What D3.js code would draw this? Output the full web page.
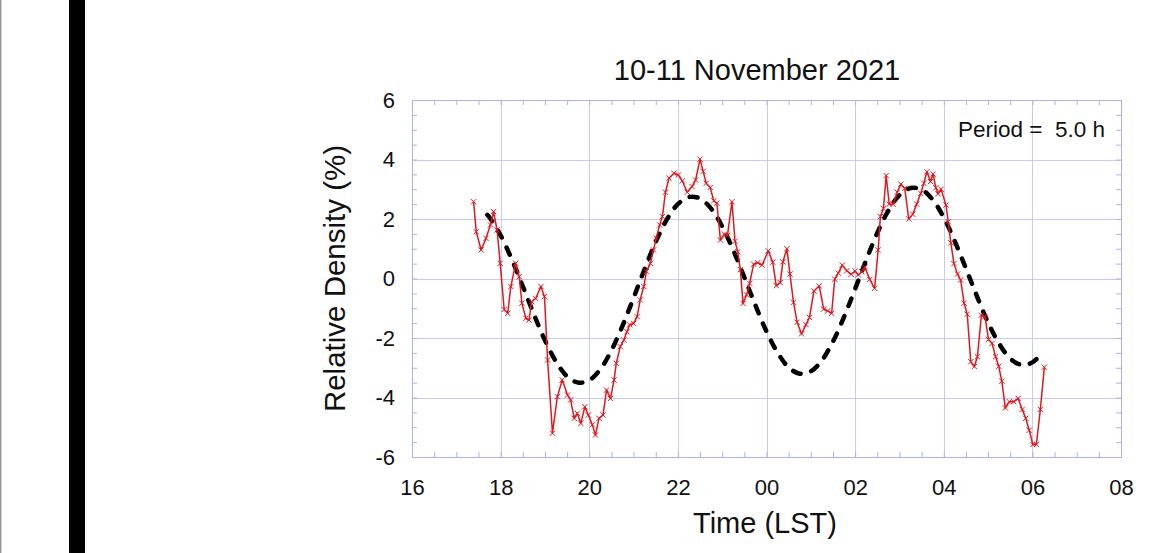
<!DOCTYPE html>
<html>
<head>
<meta charset="utf-8">
<script src="https://cdn.jsdelivr.net/npm/d3@7"></script>
<style>
  html, body { margin: 0; padding: 0; background: #fff; }
  svg { display: block; }
  text { font-family: "Liberation Sans", Arial, Helvetica, sans-serif; fill: #111; white-space: pre; }
</style>
</head>
<body>
<svg id="chart" width="1151" height="553"></svg>
<script>
// Observed relative density: time in hours (LST, continuing past midnight as 24+) and percent
const obsTime = [
  17.39, 17.45, 17.56, 17.67, 17.77, 17.84, 17.92, 17.99, 18.08, 18.16,
  18.23, 18.34, 18.42, 18.48, 18.57, 18.64, 18.70, 18.79, 18.91, 18.99,
  19.06, 19.17, 19.28, 19.39, 19.51, 19.58, 19.66, 19.73, 19.81, 19.90,
  19.98, 20.07, 20.14, 20.22, 20.31, 20.39, 20.48, 20.56, 20.61, 20.70,
  20.78, 20.85, 20.91, 21.00, 21.08, 21.15, 21.23, 21.29, 21.38, 21.45,
  21.51, 21.59, 21.65, 21.72, 21.80, 21.91, 22.01, 22.10, 22.21, 22.32,
  22.40, 22.50, 22.57, 22.64, 22.73, 22.81, 22.88, 22.96, 23.05, 23.12,
  23.22, 23.29, 23.35, 23.41, 23.47, 23.55, 23.62, 23.71, 23.80, 23.90,
  24.04, 24.14, 24.22, 24.31, 24.37, 24.46, 24.53, 24.61, 24.69, 24.79,
  24.89, 24.97, 25.07, 25.19, 25.29, 25.38, 25.47, 25.54, 25.62, 25.71,
  25.81, 25.91, 26.00, 26.07, 26.15, 26.22, 26.33, 26.44, 26.52, 26.57,
  26.64, 26.70, 26.77, 26.86, 26.95, 27.03, 27.12, 27.21, 27.30, 27.39,
  27.48, 27.55, 27.62, 27.70, 27.76, 27.82, 27.87, 27.94, 28.05, 28.10,
  28.16, 28.23, 28.31, 28.38, 28.46, 28.53, 28.61, 28.69, 28.76, 28.85,
  28.93, 29.01, 29.09, 29.17, 29.24, 29.31, 29.39, 29.48, 29.58, 29.68,
  29.77, 29.85, 29.93, 30.01, 30.09, 30.18, 30.27
];
const obsValue = [
  2.58, 1.57, 0.96, 1.35, 1.80, 2.25, 1.63, 0.51, -1.04, -1.17,
  -0.27, 0.51, 0.06, -0.83, -1.34, -1.40, -0.78, -0.67, -0.27, -0.61,
  -2.74, -5.20, -3.97, -3.41, -3.92, -4.08, -4.70, -4.53, -4.87, -4.31,
  -4.59, -4.92, -5.26, -4.70, -4.59, -3.75, -4.03, -3.41, -2.85, -2.29,
  -2.07, -1.79, -1.56, -1.51, -1.28, -0.72, -0.27, 0.23, 0.51, 0.96,
  1.35, 1.80, 2.08, 2.90, 3.37, 3.54, 3.48, 3.28, 2.90, 3.09,
  3.31, 4.01, 3.60, 3.20, 3.06, 2.61, 2.53, 1.29, 1.49, 1.45,
  2.58, 1.25, 0.90, 0.30, -0.84, -0.55, -0.16, 0.48, 0.53, 0.45,
  0.93, 0.55, -0.24, -0.14, 0.56, 1.00, 0.15, -0.80, -1.47, -1.86,
  -1.55, -1.31, -0.42, -0.25, -1.03, -1.09, -1.17, -0.02, 0.18, 0.45,
  0.26, 0.14, 0.25, 0.12, 0.23, 0.38, -0.03, -0.33, 0.96, 2.08,
  2.36, 3.46, 2.50, 2.50, 2.90, 3.17, 3.03, 2.00, 2.16, 2.50,
  2.86, 3.20, 3.59, 3.26, 3.51, 3.05, 2.85, 3.00, 2.47, 1.91,
  1.20, 0.50, 0.15, -0.05, -0.83, -1.20, -2.80, -2.96, -2.63, -1.23,
  -1.28, -2.05, -2.18, -2.63, -2.95, -3.45, -4.35, -4.14, -4.14, -4.03,
  -4.40, -4.70, -5.10, -5.58, -5.58, -4.40, -2.98
];

// Fitted 5.0 h oscillation (dashed curve)
const fitTime = [
  17.70, 17.75, 18.00, 18.25, 18.50, 18.75, 19.00, 19.25, 19.50, 19.75,
  20.00, 20.25, 20.50, 20.75, 21.00, 21.25, 21.50, 21.75, 22.00, 22.25,
  22.50, 22.75, 23.00, 23.25, 23.50, 23.75, 24.00, 24.25, 24.50, 24.75,
  25.00, 25.25, 25.50, 25.75, 26.00, 26.25, 26.50, 26.75, 27.00, 27.25,
  27.50, 27.75, 28.00, 28.25, 28.50, 28.75, 29.00, 29.25, 29.50, 29.75,
  30.00, 30.25
];
const fitValue = [
  2.14, 2.05, 1.45, 0.65, -0.26, -1.20, -2.08, -2.79, -3.29, -3.50,
  -3.42, -3.05, -2.42, -1.59, -0.65, 0.32, 1.23, 1.98, 2.50, 2.74,
  2.69, 2.35, 1.75, 0.95, 0.04, -0.90, -1.78, -2.49, -2.99, -3.20,
  -3.12, -2.75, -2.12, -1.29, -0.35, 0.62, 1.53, 2.28, 2.80, 3.04,
  2.99, 2.65, 2.05, 1.25, 0.34, -0.60, -1.48, -2.19, -2.69, -2.90,
  -2.82, -2.45
];

const xTicks = [16, 18, 20, 22, 24, 26, 28, 30, 32];
const yTicks = [-6, -4, -2, 0, 2, 4, 6];
const titleText = "10-11 November 2021";
const xLabel = "Time (LST)";
const yLabel = "Relative Density (%)";
const periodNote = "Period =  5.0 h";

const svg = d3.select("#chart");
const W = 1151, H = 553;
const plot = { left: 412, right: 1121, top: 100, bottom: 457 };
const frameColor = "#aeb0ee";
const gridColor = "#c9caf4";

const x = d3.scaleLinear().domain([16, 32]).range([plot.left, plot.right]);
const y = d3.scaleLinear().domain([-6, 6]).range([plot.bottom, plot.top]);

// Page edges: thin grey line at the far left and a solid black bar
svg.append("rect").attr("x", 0).attr("y", 0).attr("width", W).attr("height", H).attr("fill", "#fff");
svg.append("rect").attr("x", 0).attr("y", 0).attr("width", 1.5).attr("height", H).attr("fill", "#9a9a9a");
svg.append("rect").attr("x", 69).attr("y", 0).attr("width", 16).attr("height", H).attr("fill", "#000");

// Grid lines at the major ticks
const grid = svg.append("g").attr("stroke", gridColor).attr("stroke-width", 1);
grid.selectAll("line.gx").data(xTicks.slice(1, -1)).join("line")
  .attr("x1", d => Math.round(x(d)) + 0.5).attr("x2", d => Math.round(x(d)) + 0.5)
  .attr("y1", plot.top).attr("y2", plot.bottom);
grid.selectAll("line.gy").data(yTicks.slice(1, -1)).join("line")
  .attr("y1", d => Math.round(y(d)) + 0.5).attr("y2", d => Math.round(y(d)) + 0.5)
  .attr("x1", plot.left).attr("x2", plot.right);

// Minor ticks pointing inward on all four sides
const minorX = d3.range(16, 32.01, 0.5);
const minorY = d3.range(-6, 6.01, 0.5);
const tickLen = 5;
function styleAxis(g) {
  g.select(".domain").remove();
  g.selectAll(".tick line").attr("stroke", frameColor).attr("stroke-width", 1);
}
svg.append("g").attr("transform", `translate(0,${plot.bottom})`)
  .call(d3.axisBottom(x).tickValues(minorX).tickSize(-tickLen).tickFormat(""))
  .call(styleAxis);
svg.append("g").attr("transform", `translate(0,${plot.top})`)
  .call(d3.axisTop(x).tickValues(minorX).tickSize(-tickLen).tickFormat(""))
  .call(styleAxis);
svg.append("g").attr("transform", `translate(${plot.left},0)`)
  .call(d3.axisLeft(y).tickValues(minorY).tickSize(-tickLen).tickFormat(""))
  .call(styleAxis);
svg.append("g").attr("transform", `translate(${plot.right},0)`)
  .call(d3.axisRight(y).tickValues(minorY).tickSize(-tickLen).tickFormat(""))
  .call(styleAxis);

// Tick labels (plain hyphen for negatives)
const fmtHour = h => String(((h % 24) + 24) % 24).padStart(2, "0");
const xAxis = svg.append("g").attr("transform", `translate(0,${plot.bottom})`)
  .call(d3.axisBottom(x).tickValues(xTicks).tickSize(0).tickPadding(22).tickFormat(fmtHour));
xAxis.select(".domain").remove();
xAxis.selectAll("text").attr("font-size", 22).attr("font-family", "Liberation Sans, Arial, sans-serif").attr("fill", "#111");

const yAxis = svg.append("g").attr("transform", `translate(${plot.left},0)`)
  .call(d3.axisLeft(y).tickValues(yTicks).tickSize(0).tickPadding(17).tickFormat(d => String(d)));
yAxis.select(".domain").remove();
yAxis.selectAll("text").attr("font-size", 22).attr("font-family", "Liberation Sans, Arial, sans-serif").attr("fill", "#111");

// Plot frame
svg.append("rect")
  .attr("x", plot.left + 0.5).attr("y", plot.top + 0.5)
  .attr("width", plot.right - plot.left).attr("height", plot.bottom - plot.top)
  .attr("fill", "none").attr("stroke", frameColor).attr("stroke-width", 1);

// Fitted curve, thick black dashes
const fitPts = fitTime.map((t, i) => [t, fitValue[i]]);
svg.append("path")
  .datum(fitPts)
  .attr("fill", "none").attr("stroke", "#000").attr("stroke-width", 4.5)
  .attr("stroke-linecap", "round").attr("stroke-dasharray", "8,11")
  .attr("d", d3.line().x(d => x(d[0])).y(d => y(d[1])).curve(d3.curveCatmullRom));

// Observed series: red line with x markers
const obsPts = obsTime.map((t, i) => [t, obsValue[i]]);
const red = "#e0181e";
svg.append("path")
  .datum(obsPts)
  .attr("fill", "none").attr("stroke", red).attr("stroke-width", 1.5)
  .attr("stroke-linejoin", "round")
  .attr("d", d3.line().x(d => x(d[0])).y(d => y(d[1])));
const cross = d3.symbol().type(d3.symbolX).size(20);
svg.append("g").selectAll("path").data(obsPts).join("path")
  .attr("transform", d => `translate(${x(d[0])},${y(d[1])})`)
  .attr("d", cross)
  .attr("fill", "none").attr("stroke", red).attr("stroke-width", 1);

// Titles and annotation
svg.append("text").attr("x", 757).attr("y", 80).attr("text-anchor", "middle")
  .attr("font-size", 29).text(titleText);
svg.append("text").attr("x", 765).attr("y", 533).attr("text-anchor", "middle")
  .attr("font-size", 29).text(xLabel);
svg.append("text")
  .attr("transform", `translate(345,${(plot.top + plot.bottom) / 2}) rotate(-90)`)
  .attr("text-anchor", "middle").attr("font-size", 29.5).text(yLabel);
svg.append("text").attr("x", 1105).attr("y", 137).attr("text-anchor", "end")
  .attr("font-size", 22.5).text(periodNote);
</script>
</body>
</html>
